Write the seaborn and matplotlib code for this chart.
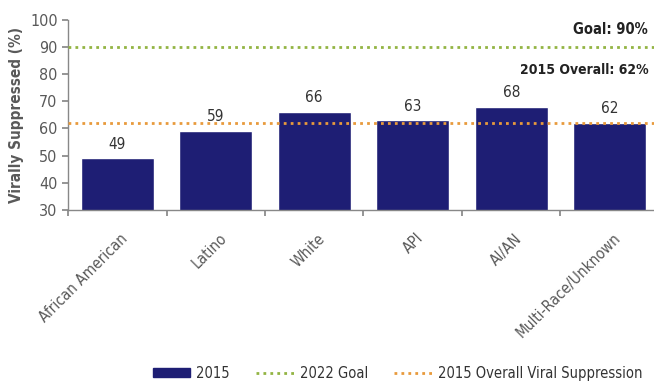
"""
Viral suppression by race/ethnicity, 2015, against the 2022 goal.
"""

import matplotlib
matplotlib.use("Agg")
import matplotlib.pyplot as plt
from matplotlib.lines import Line2D
from matplotlib.patches import Patch
import seaborn as sns
import pandas as pd

groups = ["African American", "Latino", "White", "API", "AI/AN", "Multi-Race/Unknown"]
suppressed_2015 = [49, 59, 66, 63, 68, 62]
goal_2022 = 90
overall_2015 = 62
y_ticks = [30, 40, 50, 60, 70, 80, 90, 100]

BAR = "#1e1e74"
GREEN = "#93b443"
ORANGE = "#e89a3c"
GRAY = "#595959"


def main():
    sns.set_theme(style="white")
    plt.rcParams["font.family"] = ["DejaVu Sans"]
    plt.rcParams["font.stretch"] = "condensed"

    df = pd.DataFrame({"group": groups, "value": suppressed_2015})

    fig = plt.figure(figsize=(6.54, 3.83), dpi=100)
    ax = fig.add_axes([0.104, 0.452, 0.896, 0.496])

    sns.barplot(data=df, x="group", y="value", color=BAR, saturation=1, width=0.74, ax=ax, zorder=2)

    ax.axhline(goal_2022, color=GREEN, linewidth=2, linestyle=(0, (1, 1.5)), dash_capstyle="butt", zorder=3)
    ax.axhline(overall_2015, color=ORANGE, linewidth=2, linestyle=(0, (1, 1.5)), dash_capstyle="butt", zorder=3)

    for i, v in enumerate(suppressed_2015):
        ax.text(i, v + 2.5, str(v), ha="center", va="bottom", fontsize=11, color="#333333")

    ax.text(0.99, 96.5, f"Goal: {goal_2022}%", transform=ax.get_yaxis_transform(),
            ha="right", va="center", fontsize=10.5, fontweight="bold", color="#222222")
    ax.text(0.99, 81.5, f"2015 Overall: {overall_2015}%", transform=ax.get_yaxis_transform(),
            ha="right", va="center", fontsize=10, fontweight="bold", color="#222222")

    ax.set_ylim(30, 100)
    ax.set_yticks(y_ticks)
    ax.set_xlim(-0.5, 5.45)
    ax.set_xticks([i + 0.5 for i in range(-1, 5)], minor=False)
    ax.set_xticklabels([])
    ax.set_xticks([i + 0.03 for i in range(len(groups))], minor=True)
    ax.set_xticklabels(groups, minor=True, rotation=45, ha="right", rotation_mode="anchor",
                       fontsize=11, color=GRAY)
    ax.tick_params(axis="x", which="minor", length=0, pad=15)
    ax.tick_params(axis="x", which="major", length=4, color="#888888", direction="out", bottom=True)
    ax.tick_params(axis="y", length=4, color="#888888", direction="out", left=True,
                   labelsize=11.5, labelcolor=GRAY)

    ax.set_xlabel("")
    ax.set_ylabel("Virally Suppressed (%)", fontsize=11, fontweight="bold", color=GRAY, labelpad=4)

    sns.despine(ax=ax)
    for side in ["left", "bottom"]:
        ax.spines[side].set_color("#888888")
        ax.spines[side].set_linewidth(1)

    handles = [
        Patch(facecolor=BAR, edgecolor=BAR),
        Line2D([0], [0], color=GREEN, linewidth=2, linestyle=(0, (1, 1.5))),
        Line2D([0], [0], color=ORANGE, linewidth=2, linestyle=(0, (1, 1.5))),
    ]
    labels = ["2015", "2022 Goal", "2015 Overall Viral Suppression"]
    fig.legend(handles, labels, loc="center", bbox_to_anchor=(0.608, 0.026), ncol=3,
               frameon=False, fontsize=10.5, handlelength=2.6, handleheight=0.6,
               columnspacing=1.8, handletextpad=0.4, labelcolor="#333333")

    fig.savefig("out.png", dpi=100)
    plt.close(fig)


if __name__ == "__main__":
    main()
